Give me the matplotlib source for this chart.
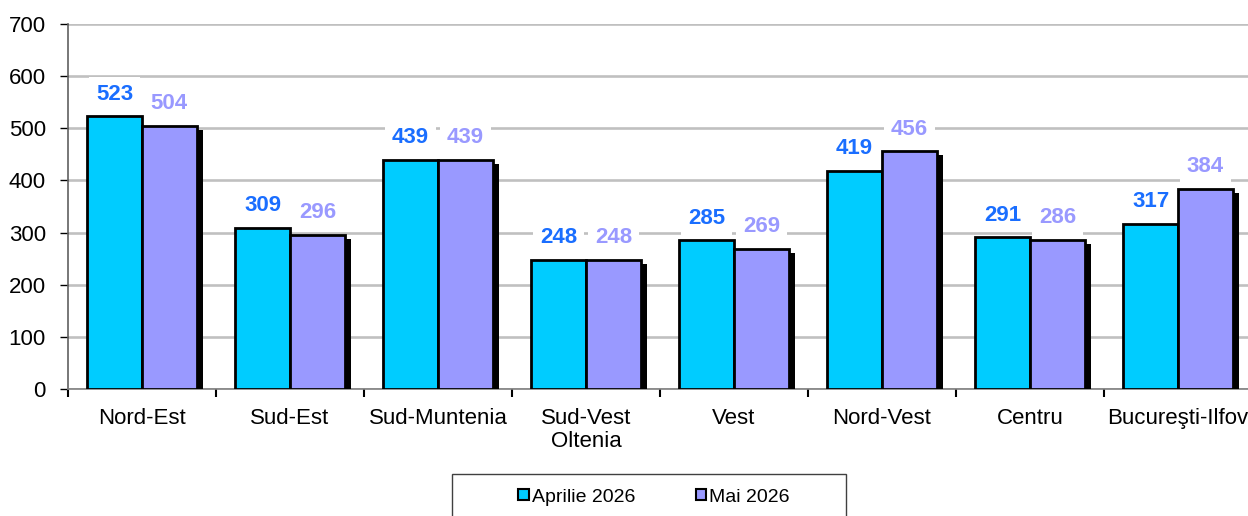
import matplotlib

matplotlib.use("Agg")
import matplotlib.pyplot as plt
import matplotlib.patheffects as pe
from matplotlib.patches import Patch, Rectangle
import numpy as np

plt.rcParams["font.family"] = ["Liberation Sans", "DejaVu Sans"]

regions = ["Nord-Est", "Sud-Est", "Sud-Muntenia", "Sud-Vest\nOltenia", "Vest",
           "Nord-Vest", "Centru", "Bucureşti-Ilfov"]
aprilie = [523, 309, 439, 248, 285, 419, 291, 317]
mai = [504, 296, 439, 248, 269, 456, 286, 384]
series_names = ["Aprilie 2026", "Mai 2026"]
bar_colors = ["#00CCFF", "#9999FF"]
label_colors = ["#1A6EFF", "#9999FF"]
yticks = [0, 100, 200, 300, 400, 500, 600, 700]

W, H = 1248, 516
fig = plt.figure(figsize=(W / 100, H / 100), dpi=100)
ax = fig.add_axes([68 / W, 127 / H, 1184 / W, 365 / H])

x = np.arange(len(regions))
w = 0.37
shadow = [pe.SimplePatchShadow(offset=(4.3, -2.9), shadow_rgbFace="black", alpha=1.0),
          pe.Normal()]

for k, (vals, col, lcol) in enumerate(zip([aprilie, mai], bar_colors, label_colors)):
    pos = x + (k - 0.5) * w
    bars = ax.bar(pos, vals, width=w, color=col, edgecolor="black",
                  linewidth=2.0, zorder=3 + k * 0.1)
    # only the right-hand series casts a visible shadow
    if k == 1:
        for b in bars:
            b.set_path_effects(shadow)
    for px, v in zip(pos, vals):
        ax.annotate(str(v), (px, v), xytext=(0, 16), textcoords="offset points",
                    ha="center", va="center", fontsize=16, fontweight="bold",
                    color=lcol, zorder=5,
                    bbox=dict(boxstyle="square,pad=0.3", fc="white", ec="none"))

ax.set_xlim(-0.5, len(regions) - 0.5)
ax.set_ylim(0, 700)
ax.set_yticks(yticks)
ax.tick_params(axis="y", labelsize=16, length=6, width=1, color="black", pad=10)
ax.set_xticks(x)
ax.set_xticklabels(regions, fontsize=16, linespacing=1.1)
ax.tick_params(axis="x", length=0, pad=14)
ax.set_xticks(np.arange(len(regions) + 1) - 0.5, minor=True)
ax.tick_params(axis="x", which="minor", length=6, width=1.5, color="black")

ax.grid(axis="y", color="#C0C0C0", linewidth=1.9, zorder=0)
ax.set_axisbelow(True)
for s in ["top", "right"]:
    ax.spines[s].set_visible(False)
ax.spines["left"].set_color("#606060")
ax.spines["left"].set_linewidth(1.2)
ax.spines["bottom"].set_color("#808080")
ax.spines["bottom"].set_linewidth(1.2)

# legend box, running off the bottom edge as in the source
fig.patches.append(Rectangle((452 / W, -0.02), 394 / W, 0.02 + (H - 474) / H,
                             transform=fig.transFigure, fc="white", ec="#404040",
                             lw=1.0, zorder=1))
handles = [Patch(facecolor=c, edgecolor="black", linewidth=1.5) for c in bar_colors]
leg = fig.legend(handles, series_names, loc="center",
                 bbox_to_anchor=(654 / W, 1 - 497 / H), ncol=2, fontsize=14,
                 handlelength=0.55, handleheight=0.55, handletextpad=0.15,
                 columnspacing=3.1, borderpad=0.2, frameon=False)
leg.set_zorder(2)

fig.savefig("out.png", dpi=100)
